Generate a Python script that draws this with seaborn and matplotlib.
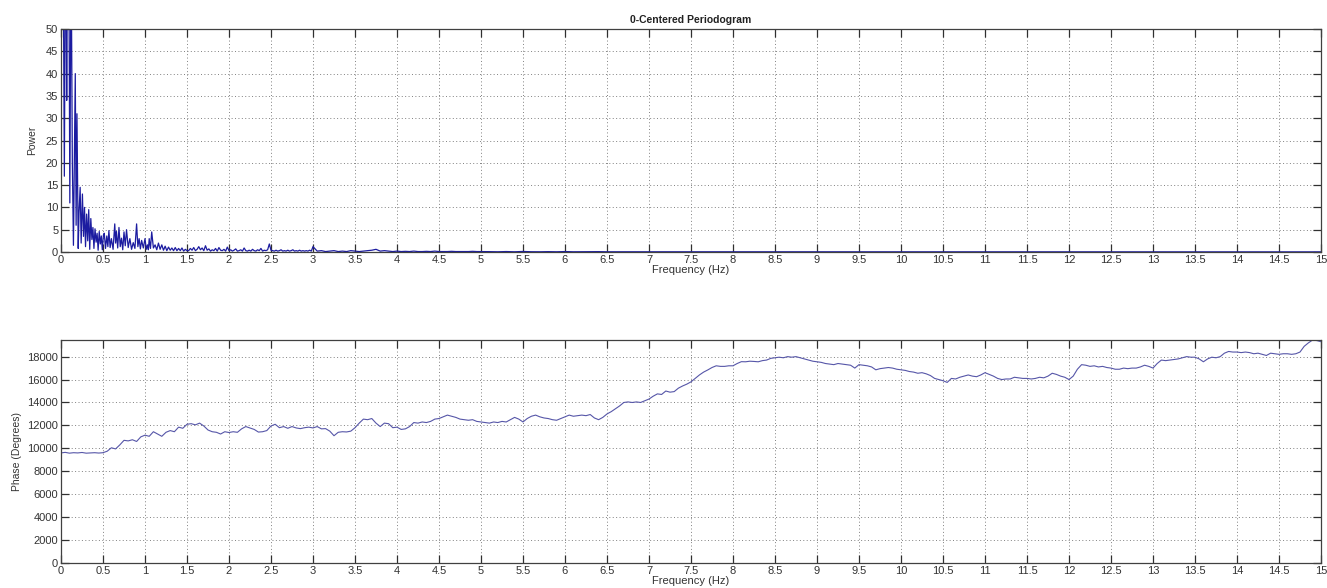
import numpy as np
import pandas as pd
import matplotlib
matplotlib.use("Agg")
import matplotlib.pyplot as plt
import seaborn as sns

# ---------------- data ----------------
# Power spectrum, segment 1 (0 .. 1.5 Hz): peaks and dips as read
power_freq_seg1 = [0.00, 0.02, 0.04, 0.055, 0.068, 0.08, 0.095, 0.105, 0.12, 0.135, 0.148, 0.17,
                   0.18, 0.19, 0.205, 0.215, 0.228, 0.24, 0.255, 0.268, 0.28, 0.292, 0.305, 0.318,
                   0.33, 0.342, 0.355, 0.368, 0.38, 0.392, 0.405, 0.418, 0.43, 0.442, 0.455, 0.468,
                   0.48, 0.492, 0.505, 0.515, 0.53, 0.545, 0.558, 0.57, 0.585, 0.6, 0.62, 0.64,
                   0.65, 0.66, 0.675, 0.69, 0.705, 0.72, 0.735, 0.75, 0.765, 0.78, 0.8, 0.82,
                   0.84, 0.86, 0.88, 0.9, 0.915, 0.93, 0.945, 0.96, 0.98, 1.0, 1.015, 1.03,
                   1.04, 1.05, 1.065, 1.08, 1.1, 1.12, 1.14, 1.16, 1.18, 1.2, 1.22, 1.24,
                   1.26, 1.28, 1.30, 1.32, 1.34, 1.36, 1.38, 1.40, 1.42, 1.44, 1.46, 1.48, 1.50]
power_seg1 = [130, 90, 17, 80, 34, 75, 60, 11, 70, 20, 1.5, 40,
              6, 31, 0.8, 9, 14.5, 2, 13, 3.5, 10, 1.2, 8.5, 2.5,
              9.5, 0.6, 7.5, 2.8, 5.5, 0.8, 5.2, 2.2, 4.2, 0.4, 4.6, 1.8,
              3.6, 0.5, 3.8, 4.2, 0.8, 3.6, 1.2, 4.8, 1.0, 3.0, 0.6, 6.3,
              2.0, 4.6, 0.9, 5.5, 1.2, 3.1, 0.5, 4.5, 1.4, 5.0, 1.0, 3.0,
              0.6, 2.1, 0.8, 6.3, 1.2, 3.0, 0.7, 2.6, 0.9, 3.0, 0.6, 1.6,
              0.5, 3.0, 0.8, 4.5, 0.9, 1.6, 0.5, 2.0, 0.6, 1.6, 0.4, 1.3,
              0.3, 1.1, 0.4, 0.9, 0.3, 1.0, 0.3, 0.8, 0.3, 0.9, 0.2, 0.6, 0.3]
# segment 2: 1.52 .. 3.00 Hz every 0.02 Hz
power_seg2 = [0.3, 0.8, 0.4, 1.0, 0.3, 0.6, 1.2, 0.5, 0.9, 0.3, 1.4, 0.4, 0.7, 0.2, 0.5, 0.3, 0.8,
              0.2, 1.0, 0.4, 0.3, 0.6, 0.2, 1.1, 0.3, 0.5, 0.2, 0.4, 0.7, 0.2, 0.3, 0.5, 0.2, 0.9,
              0.3, 0.2, 0.4, 0.2, 0.6, 0.3, 0.2, 0.5, 0.3, 0.8, 0.2, 0.4, 0.3, 0.5, 1.8, 0.4, 0.3,
              0.2, 0.4, 0.2, 0.3, 0.5, 0.2, 0.3, 0.2, 0.4, 0.2, 0.3, 0.5, 0.2, 0.3, 0.2, 0.4, 0.2,
              0.3, 0.2, 0.3, 0.2, 0.4, 0.2, 1.2]
# segment 3: 3.05 .. 5.00 Hz every 0.05 Hz
power_seg3 = [0.2, 0.3, 0.1, 0.2, 0.3, 0.1, 0.2, 0.1, 0.3, 0.2, 0.1, 0.2, 0.3, 0.4, 0.6, 0.2, 0.3,
              0.2, 0.1, 0.2, 0.1, 0.15, 0.1, 0.2, 0.1, 0.1, 0.15, 0.1, 0.2, 0.1, 0.1, 0.1, 0.15, 0.1,
              0.1, 0.1, 0.1, 0.15, 0.1, 0.1]
# segment 4: 5.1 .. 15.0 Hz every 0.1 Hz
power_seg4 = [0.08, 0.05, 0.1, 0.05, 0.12, 0.06, 0.05, 0.08, 0.05, 0.1,
              0.05, 0.06, 0.05, 0.08, 0.05, 0.05, 0.07, 0.05, 0.05, 0.06,
              0.05, 0.05, 0.06, 0.04, 0.05, 0.05, 0.04, 0.05, 0.06, 0.04,
              0.04, 0.05, 0.04, 0.04, 0.05, 0.04, 0.04, 0.04, 0.05, 0.04,
              0.04, 0.04, 0.03, 0.04, 0.04, 0.03, 0.04, 0.03, 0.04, 0.03,
              0.03, 0.04, 0.03, 0.03, 0.04, 0.03, 0.03, 0.03, 0.04, 0.03,
              0.03, 0.03, 0.03, 0.03, 0.04, 0.03, 0.03, 0.03, 0.03, 0.03,
              0.03, 0.03, 0.03, 0.03, 0.03, 0.03, 0.03, 0.03, 0.03, 0.03,
              0.03, 0.03, 0.03, 0.03, 0.03, 0.03, 0.03, 0.03, 0.03, 0.03,
              0.03, 0.03, 0.03, 0.03, 0.03, 0.03, 0.03, 0.03, 0.03, 0.03]

# Phase, 0.00 .. 15.00 Hz every 0.05 Hz
phase_deg = [9600, 9650, 9580, 9620, 9600, 9640, 9580, 9600, 9620, 9590, 9620,
             9750, 10050, 9950, 10300, 10700, 10650, 10750, 10600, 11000, 11150,
             11050, 11450, 11250, 11050, 11400, 11550, 11450, 11850, 11750, 12100,
             12150, 12050, 12200, 11950, 11600, 11450, 11400, 11250, 11450, 11380,
             11450, 11400, 11700, 11900, 11780, 11650, 11420, 11450, 11550, 11950,
             12100, 11800, 11900, 11750, 11900, 11780, 11720, 11800, 11850, 11780,
             11900, 11700, 11720, 11500, 11100, 11400, 11450, 11430, 11500, 11800,
             12200, 12550, 12500, 12600, 12200, 11900, 12200, 12150, 11800, 11850,
             11650, 11700, 11900, 12250, 12200, 12300, 12250, 12350, 12550, 12600,
             12750, 12900, 12800, 12700, 12550, 12500, 12450, 12500, 12350, 12300,
             12250, 12200, 12300, 12250, 12350, 12300, 12500, 12700, 12550, 12300,
             12600, 12800, 12900, 12750, 12650, 12600, 12500, 12450, 12600, 12750,
             12900, 12800, 12850, 12900, 12850, 12950, 12650, 12500, 12700, 13000,
             13200, 13450, 13700, 14000, 14050, 14000, 14050, 14000, 14150, 14300,
             14550, 14750, 14700, 15000, 14900, 14950, 15250, 15440, 15600, 15800,
             16100, 16400, 16650, 16840, 17050, 17200, 17150, 17150, 17200, 17200,
             17400, 17560, 17550, 17600, 17580, 17550, 17650, 17700, 17850, 17900,
             17950, 17900, 18000, 17950, 18000, 17900, 17800, 17700, 17600, 17550,
             17500, 17400, 17350, 17300, 17400, 17350, 17300, 17250, 17000, 17300,
             17250, 17200, 17100, 16850, 16950, 17000, 17050, 17000, 16900, 16850,
             16800, 16700, 16650, 16550, 16600, 16500, 16350, 16100, 16000, 15900,
             15750, 16100, 16050, 16200, 16300, 16400, 16300, 16250, 16400, 16600,
             16450, 16300, 16100, 16000, 16050, 16050, 16200, 16150, 16100, 16100,
             16050, 16100, 16200, 16150, 16300, 16550, 16450, 16300, 16200, 16000,
             16300, 16900, 17300, 17250, 17150, 17200, 17100, 17150, 17050, 17000,
             16900, 16900, 17000, 16950, 17000, 17000, 17100, 17250, 17150, 17000,
             17400, 17700, 17650, 17700, 17750, 17800, 17900, 18000, 17950, 17950,
             17800, 17550, 17800, 17950, 17900, 18000, 18300, 18450, 18400, 18400,
             18350, 18400, 18350, 18250, 18300, 18200, 18100, 18300, 18250, 18200,
             18250, 18250, 18200, 18250, 18400, 18900, 19200, 19450, 19400, 19300]

x_ticks = [0, 0.5, 1, 1.5, 2, 2.5, 3, 3.5, 4, 4.5, 5, 5.5, 6, 6.5, 7, 7.5, 8, 8.5, 9, 9.5,
           10, 10.5, 11, 11.5, 12, 12.5, 13, 13.5, 14, 14.5, 15]
x_tick_labels = ["0", "0.5", "1", "1.5", "2", "2.5", "3", "3.5", "4", "4.5", "5", "5.5", "6",
                 "6.5", "7", "7.5", "8", "8.5", "9", "9.5", "10", "10.5", "11", "11.5", "12",
                 "12.5", "13", "13.5", "14", "14.5", "15"]
power_ticks = [0, 5, 10, 15, 20, 25, 30, 35, 40, 45, 50]
phase_ticks = [0, 2000, 4000, 6000, 8000, 10000, 12000, 14000, 16000, 18000]

title_text = "0-Centered Periodogram"
xlabel_text = "Frequency (Hz)"
ylabel_top = "Power"
ylabel_bottom = "Phase (Degrees)"

# frequency grids for the evenly sampled segments (axis positions)
f2 = np.linspace(1.52, 3.0, len(power_seg2))
f3 = np.linspace(3.05, 5.0, len(power_seg3))
f4 = np.linspace(5.1, 15.0, len(power_seg4))
freq_power = np.concatenate([power_freq_seg1, f2, f3, f4])
power = np.concatenate([power_seg1, power_seg2, power_seg3, power_seg4])
freq_phase = np.linspace(0.0, 15.0, len(phase_deg))

df_power = pd.DataFrame({"freq": freq_power, "power": power})
df_phase = pd.DataFrame({"freq": freq_phase, "phase": phase_deg})

# ---------------- drawing ----------------
sns.set_theme(style="white")
plt.rcParams["font.family"] = ["Liberation Sans", "DejaVu Sans"]

fig = plt.figure(figsize=(13.27, 5.88), dpi=100)
ax1 = fig.add_axes([61 / 1327, 1 - 252 / 588, 1260 / 1327, 223 / 588])
ax2 = fig.add_axes([61 / 1327, 1 - 563 / 588, 1260 / 1327, 223 / 588])

sns.lineplot(data=df_power, x="freq", y="power", ax=ax1, color="#1c1ca0",
             linewidth=0.9, estimator=None, sort=False)
sns.lineplot(data=df_phase, x="freq", y="phase", ax=ax2, color="#5656a8",
             linewidth=0.8, estimator=None, sort=False)

for ax, yt in ((ax1, power_ticks), (ax2, phase_ticks)):
    ax.set_xlim(0, 15)
    ax.set_xticks(x_ticks)
    ax.set_xticklabels(x_tick_labels)
    ax.set_yticks(yt)
    ax.set_yticklabels([str(v) for v in yt])
    ax.grid(True, linestyle=(0, (1, 2.5)), color="#808080", linewidth=0.7)
    ax.tick_params(axis="both", direction="in", length=6, width=0.9, color="#303030",
                   labelsize=8, labelcolor="#333333", top=True, right=True,
                   bottom=True, left=True, pad=2)
    for s in ax.spines.values():
        s.set_color("#404040")
        s.set_linewidth(0.9)
        s.set_visible(True)
    ax.set_xlabel(xlabel_text, fontsize=8, color="#333333", labelpad=0)

ax1.set_ylim(0, 50)
ax2.set_ylim(0, 19450)
ax1.set_ylabel(ylabel_top, fontsize=7.5, color="#333333", labelpad=6)
ax2.set_ylabel(ylabel_bottom, fontsize=7.5, color="#333333", labelpad=4)
ax1.set_title(title_text, fontsize=7.5, fontweight="bold", color="#222222", pad=4)

fig.savefig("out.png", dpi=100, facecolor="white")
